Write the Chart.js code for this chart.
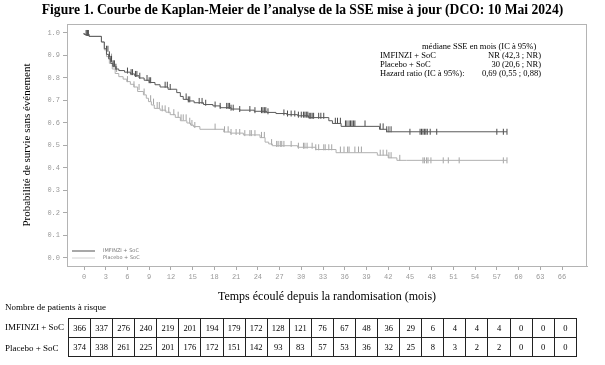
<!DOCTYPE html>
<html lang="fr">
<head>
<meta charset="utf-8">
<title>Courbe de Kaplan-Meier SSE</title>
<script src="https://cdn.jsdelivr.net/npm/chart.js@4/dist/chart.umd.min.js"></script>
<style>
    body { margin: 0; background: #fff; }
    #wrap { position: relative; width: 605px; height: 365px; overflow: hidden; font-family: 'Liberation Serif', serif; color: #000; }
    #kmChart { position: absolute; left: 0; top: 0; }
    .txt { position: absolute; white-space: nowrap; }
    #title { left: 0; width: 605px; top: 2px; text-align: center; font-weight: bold; font-size: 13.6px; }
    .note { font-size: 8.5px; line-height: 9px; }
    .note-r { text-align: right; width: 120px; }
    #riskTable { position: absolute; left: 68px; top: 318px; width: 509px; border-collapse: collapse; table-layout: fixed; font-size: 8.5px; }
    #riskTable td { border: 1px solid #222; height: 18px; padding: 0; text-align: center; }
</style>
</head>
<body>
<div id="wrap">
    <canvas id="kmChart" width="605" height="365"></canvas>
    <div id="title" class="txt">Figure 1. Courbe de Kaplan-Meier de l’analyse de la SSE mise à jour (DCO: 10 Mai 2024)</div>

    <div class="txt note" style="left:422px; top:42px;">médiane SSE en mois (IC à 95%)</div>
    <div class="txt note" style="left:380px; top:51px;">IMFINZI + SoC</div>
    <div class="txt note note-r" style="left:421px; top:51px;">NR (42,3 ; NR)</div>
    <div class="txt note" style="left:380px; top:60px;">Placebo + SoC</div>
    <div class="txt note note-r" style="left:421px; top:60px;">30 (20,6 ; NR)</div>
    <div class="txt note" style="left:380px; top:69px;">Hazard ratio (IC à 95%):</div>
    <div class="txt note note-r" style="left:421px; top:69px;">0,69 (0,55 ; 0,88)</div>

    <div class="txt" style="left:5px; top:302px; font-size:9px;">Nombre de patients à risque</div>
    <div class="txt" style="left:5px; top:322px; font-size:9px;">IMFINZI + SoC</div>
    <div class="txt" style="left:5px; top:343px; font-size:9px;">Placebo + SoC</div>
    <table id="riskTable"><tbody></tbody></table>
</div>

<script>
// axis ticks
const X_TICKS = [0, 3, 6, 9, 12, 15, 18, 21, 24, 27, 30, 33, 36, 39, 42, 45, 48, 51, 54, 57, 60, 63, 66];
const Y_TICKS = [0, 0.1, 0.2, 0.3, 0.4, 0.5, 0.6, 0.7, 0.8, 0.9, 1.0];

// IMFINZI + SoC: step times (months) and survival after each step
const IMF_TIME = [0, 0.7, 2.4, 2.8, 3.1, 3.4, 3.7, 4.0, 4.4, 4.8, 5.6, 6.4, 7.0, 7.6, 8.3, 9.0, 9.8, 10.5, 11.6, 12.8,
    13.3, 13.7, 14.4, 15.2, 16.5, 17.8, 18.8, 20.3, 21.5, 23.5, 25.2, 26.5, 28.0, 29.5, 31.0, 33.8, 34.3, 35.5, 40.8, 41.8, 42.5];
const IMF_SURV = [1.0, 0.994, 0.985, 0.96, 0.93, 0.905, 0.885, 0.865, 0.85, 0.84, 0.833, 0.826, 0.818, 0.81, 0.80, 0.79, 0.78, 0.77, 0.76, 0.75,
    0.735, 0.718, 0.705, 0.698, 0.69, 0.682, 0.676, 0.668, 0.662, 0.657, 0.652, 0.647, 0.642, 0.637, 0.632, 0.624, 0.61, 0.598, 0.585, 0.572, 0.561];
const IMF_CENSOR = [0.3, 0.5, 0.6, 3.1, 3.3, 3.5, 3.7, 3.8, 4.0, 4.2, 4.4, 6.0, 6.5, 6.7, 7.1, 7.3, 7.7, 8.7, 9.0, 9.2,
    11.2, 11.5, 11.9, 14.1, 14.4, 14.6, 15.9, 16.3, 16.8, 18.1, 18.8, 19.7, 19.9, 20.1, 20.3, 20.6, 21.5, 22.9, 23.6,
    24.5, 24.7, 24.9, 25.1, 25.4, 27.6, 28.1, 28.6, 29.1, 29.6, 30.0, 30.3, 30.5, 30.7, 30.9, 31.1, 31.3, 31.5, 31.7,
    32.4, 32.7, 33.1, 34.7, 35.0, 35.4, 36.1, 36.3, 36.6, 36.8, 37.0, 37.2, 37.4, 38.8, 40.9, 41.3, 41.8, 42.1, 42.4,
    45.0, 46.4, 46.6, 46.8, 47.0, 47.2, 47.4, 47.8, 48.7, 57.0, 57.9, 58.4];

// Placebo + SoC
const PBO_TIME = [0, 0.7, 2.4, 2.8, 3.1, 3.5, 3.9, 4.3, 4.8, 5.4, 5.9, 6.4, 6.9, 7.4, 8.2, 8.6, 8.9, 9.3, 9.7, 10.5,
    11.3, 11.9, 12.6, 13.3, 14.2, 14.7, 15.1, 16.0, 19.3, 20.2, 22.0, 24.3, 25.0, 25.5, 26.0, 29.5, 32.0, 34.8, 40.5, 42.0, 43.2, 44.5];
const PBO_SURV = [1.0, 0.994, 0.985, 0.96, 0.925, 0.895, 0.865, 0.84, 0.82, 0.806, 0.795, 0.784, 0.772, 0.76, 0.74, 0.725, 0.71, 0.695, 0.68, 0.665,
    0.657, 0.648, 0.637, 0.625, 0.61, 0.60, 0.591, 0.584, 0.572, 0.56, 0.555, 0.547, 0.535, 0.515, 0.507, 0.499, 0.492, 0.482, 0.468, 0.457, 0.445, 0.434];
const PBO_CENSOR = [0.3, 0.5, 3.5, 3.8, 4.1, 4.5, 6.0, 6.9, 7.6, 8.3, 9.2, 9.6, 10.1, 10.4, 10.8, 11.2, 11.7, 12.4, 13.0, 13.4,
    13.7, 14.1, 14.6, 14.9, 15.3, 18.1, 19.4, 19.9, 20.3, 21.0, 21.5, 22.2, 22.9, 23.1, 23.6, 24.5, 24.9, 25.9, 26.6, 26.8,
    27.1, 27.3, 27.6, 28.6, 29.6, 30.3, 30.5, 30.8, 31.5, 32.0, 32.4, 33.1, 33.3, 33.8, 34.2, 35.4, 35.9, 36.4, 36.6, 37.4,
    37.9, 38.3, 40.9, 41.3, 41.8, 42.1, 42.4, 43.6, 46.8, 47.0, 47.3, 47.5, 47.9, 49.6, 50.3, 51.8, 57.9, 58.4];

// patients at risk (every 3 months)
const RISK_IMF = [366, 337, 276, 240, 219, 201, 194, 179, 172, 128, 121, 76, 67, 48, 36, 29, 6, 4, 4, 4, 0, 0, 0];
const RISK_PBO = [374, 338, 261, 225, 201, 176, 172, 151, 142, 93, 83, 57, 53, 36, 32, 25, 8, 3, 2, 2, 0, 0, 0];

const SERIES = ['IMFINZI + SoC', 'Placebo + SoC'];

// survival value of the step curve at time t
function survAt(times, surv, t) {
    let s = surv[0];
    for (let i = 0; i < times.length; i++) {
        if (times[i] <= t) s = surv[i];
    }
    return s;
}

function stepPoints(times, surv, censor) {
    const pts = times.map((t, i) => ({ x: t, y: surv[i] }));
    const last = censor[censor.length - 1];
    pts.push({ x: last, y: surv[surv.length - 1] });
    return pts;
}

function censorPoints(times, surv, censor) {
    return censor.map(t => ({ x: t, y: survAt(times, surv, t) }));
}

document.addEventListener('DOMContentLoaded', function() {
    // at-risk table
    const tbody = document.querySelector('#riskTable tbody');
    [RISK_IMF, RISK_PBO].forEach(row => {
        const tr = document.createElement('tr');
        row.forEach(n => {
            const td = document.createElement('td');
            td.textContent = n;
            tr.appendChild(td);
        });
        tbody.appendChild(tr);
    });

    // box around plot + small legend in the corner
    const framePlugin = {
        id: 'frame',
        beforeDatasetsDraw(chart) {
            const a = chart.chartArea;
            const c = chart.ctx;
            c.save();
            c.strokeStyle = '#b4b4b4';
            c.lineWidth = 1;
            c.strokeRect(a.left + 0.5, a.top + 0.5, a.right - a.left - 1, a.bottom - a.top);
            c.restore();
        },
        afterDatasetsDraw(chart) {
            const a = chart.chartArea;
            const c = chart.ctx;
            const items = [
                { label: SERIES[0], color: '#a8a8a8', width: 2, dy: 15 },
                { label: SERIES[1], color: '#d2d2d2', width: 1, dy: 8 }
            ];
            c.save();
            c.font = '5px "DejaVu Sans"';
            c.textBaseline = 'middle';
            items.forEach(it => {
                const y = a.bottom - it.dy;
                c.strokeStyle = it.color;
                c.lineWidth = it.width;
                c.beginPath();
                c.moveTo(a.left + 5, y);
                c.lineTo(a.left + 28, y);
                c.stroke();
                c.fillStyle = '#777';
                c.fillText(it.label, a.left + 36, y);
            });
            c.restore();
        }
    };

    const tickFont = { family: 'Liberation Mono', size: 7 };
    const ctx = document.getElementById('kmChart').getContext('2d');

    new Chart(ctx, {
        type: 'line',
        data: {
            datasets: [
                {
                    label: SERIES[0],
                    data: stepPoints(IMF_TIME, IMF_SURV, IMF_CENSOR),
                    stepped: 'after',
                    borderColor: '#5a5a5a',
                    borderWidth: 1,
                    pointRadius: 0,
                    fill: false
                },
                {
                    label: SERIES[0] + ' censure',
                    data: censorPoints(IMF_TIME, IMF_SURV, IMF_CENSOR),
                    showLine: false,
                    pointStyle: 'line',
                    rotation: 90,
                    pointRadius: 3,
                    pointBorderWidth: 1,
                    pointBorderColor: '#4a4a4a',
                    borderColor: '#4a4a4a'
                },
                {
                    label: SERIES[1],
                    data: stepPoints(PBO_TIME, PBO_SURV, PBO_CENSOR),
                    stepped: 'after',
                    borderColor: '#b0b0b0',
                    borderWidth: 1,
                    pointRadius: 0,
                    fill: false
                },
                {
                    label: SERIES[1] + ' censure',
                    data: censorPoints(PBO_TIME, PBO_SURV, PBO_CENSOR),
                    showLine: false,
                    pointStyle: 'line',
                    rotation: 90,
                    pointRadius: 3,
                    pointBorderWidth: 1,
                    pointBorderColor: '#a4a4a4',
                    borderColor: '#a4a4a4'
                }
            ]
        },
        options: {
            responsive: false,
            animation: false,
            events: [],
            layout: { padding: { left: 0, top: 24, right: 18, bottom: 59 } },
            plugins: {
                legend: { display: false },
                tooltip: { enabled: false }
            },
            scales: {
                x: {
                    type: 'linear',
                    min: -2.35,
                    max: 69.45,
                    afterBuildTicks: s => { s.ticks = X_TICKS.map(v => ({ value: v })); },
                    afterFit: s => { s.height = 40; },
                    grid: { drawOnChartArea: false, tickLength: 4, color: '#aaa' },
                    border: { color: '#b4b4b4' },
                    ticks: { autoSkip: false, maxRotation: 0, padding: 3, color: '#999', font: tickFont },
                    title: {
                        display: true,
                        text: 'Temps écoulé depuis la randomisation (mois)',
                        color: '#000',
                        font: { family: 'Liberation Serif', size: 12 },
                        padding: { top: 0, bottom: 2 }
                    }
                },
                y: {
                    min: -0.0356,
                    max: 1.04,
                    afterBuildTicks: s => { s.ticks = Y_TICKS.map(v => ({ value: v })); },
                    afterFit: s => { s.width = 67; },
                    grid: { drawOnChartArea: false, tickLength: 4, color: '#aaa' },
                    border: { color: '#b4b4b4' },
                    ticks: {
                        padding: 3,
                        color: '#999',
                        font: tickFont,
                        callback: v => v.toFixed(1)
                    },
                    title: {
                        display: true,
                        text: 'Probabilité de survie sans événement',
                        color: '#000',
                        font: { family: 'Liberation Serif', size: 11 },
                        padding: { top: 21, bottom: 0 }
                    }
                }
            }
        },
        plugins: [framePlugin]
    });
});
</script>
</body>
</html>
